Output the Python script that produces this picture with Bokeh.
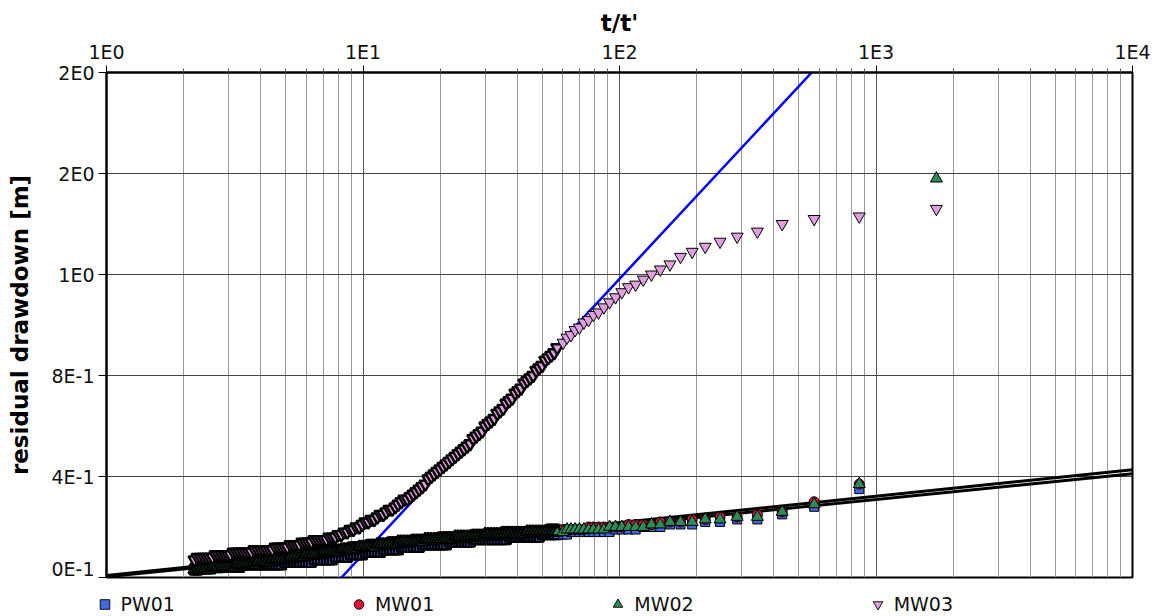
from bokeh.plotting import figure
from bokeh.layouts import column
from bokeh.models import FixedTicker, Legend, LegendItem
from bokeh.embed import file_html
from bokeh.resources import INLINE

# ---------------- data ----------------
# t/t' values shared by every well (ascending)
t_ratio = [2.203, 2.263, 2.325, 2.388, 2.453, 2.520, 2.589, 2.660, 2.732, 2.807,
           2.884, 2.963, 3.043, 3.126, 3.212, 3.299, 3.389, 3.482, 3.577, 3.675,
           3.774, 3.877, 3.983, 4.092, 4.203, 4.318, 4.436, 4.557, 4.681, 4.809,
           4.940, 5.074, 5.213, 5.355, 5.501, 5.651, 5.805, 5.964, 6.127, 6.294,
           6.465, 6.641, 6.822, 7.008, 7.200, 7.396, 7.598, 7.805, 8.018, 8.237,
           8.460, 8.691, 8.928, 9.172, 9.422, 9.680, 9.944, 10.215, 10.494, 10.780,
           11.07, 11.38, 11.69, 12.00, 12.33, 12.67, 13.01, 13.37, 13.73, 14.11,
           14.49, 14.89, 15.29, 15.71, 16.14, 16.58, 17.03, 17.50, 17.97, 18.46,
           18.97, 19.48, 20.01, 20.56, 21.12, 21.70, 22.29, 22.90, 23.52, 24.17,
           24.82, 25.50, 26.19, 26.91, 27.64, 28.40, 29.17, 29.97, 30.79, 31.63,
           32.49, 33.37, 34.28, 35.22, 36.18, 37.17, 38.18, 39.22, 40.29, 41.39,
           42.52, 43.67, 44.87, 46.09, 47.35, 48.64, 49.97, 51.33, 52.73, 54.17,
           55.64, 57.16,
           60.28, 62.39, 64.67, 67.12, 69.76, 72.63, 75.74, 79.14, 82.86, 86.95,
           91.47, 96.5, 102.12, 108.44, 115.6, 123.79, 133.23, 144.25, 157.27, 172.9,
           192.0, 215.875, 246.57, 287.5, 344.8, 430.75, 574.0, 860.5, 1720.0]

# residual drawdown [m]
mw03 = [0.07, 0.08, 0.08, 0.08, 0.08, 0.08, 0.08, 0.09, 0.09, 0.09,
        0.09, 0.09, 0.09, 0.10, 0.10, 0.10, 0.10, 0.10, 0.10, 0.10,
        0.11, 0.11, 0.11, 0.11, 0.11, 0.11, 0.11, 0.12, 0.12, 0.12,
        0.12, 0.12, 0.13, 0.13, 0.13, 0.13, 0.14, 0.14, 0.14, 0.14,
        0.15, 0.15, 0.15, 0.15, 0.15, 0.16, 0.16, 0.16, 0.17, 0.17,
        0.18, 0.18, 0.19, 0.19, 0.20, 0.20, 0.21, 0.22, 0.22, 0.23,
        0.23, 0.24, 0.25, 0.25, 0.26, 0.27, 0.27, 0.28, 0.29, 0.30,
        0.31, 0.31, 0.32, 0.33, 0.34, 0.35, 0.36, 0.37, 0.39, 0.40,
        0.41, 0.42, 0.43, 0.44, 0.45, 0.46, 0.47, 0.48, 0.49, 0.50,
        0.51, 0.52, 0.53, 0.55, 0.56, 0.57, 0.58, 0.60, 0.61, 0.62,
        0.63, 0.65, 0.66, 0.67, 0.69, 0.70, 0.71, 0.73, 0.74, 0.75,
        0.77, 0.78, 0.79, 0.80, 0.82, 0.83, 0.84, 0.86, 0.87, 0.88,
        0.89, 0.91,
        0.93, 0.95, 0.96, 0.98, 0.99, 1.01, 1.02, 1.04, 1.05, 1.07,
        1.09, 1.11, 1.13, 1.15, 1.16, 1.18, 1.20, 1.22, 1.24, 1.27,
        1.29, 1.31, 1.33, 1.35, 1.37, 1.40, 1.42, 1.43, 1.46]

mw02 = [0.03, 0.03, 0.03, 0.03, 0.03, 0.03, 0.04, 0.04, 0.04, 0.04,
        0.04, 0.04, 0.04, 0.04, 0.05, 0.05, 0.05, 0.05, 0.05, 0.05,
        0.05, 0.06, 0.06, 0.06, 0.06, 0.06, 0.07, 0.07, 0.07, 0.07,
        0.07, 0.07, 0.08, 0.08, 0.08, 0.08, 0.08, 0.09, 0.09, 0.09,
        0.09, 0.09, 0.09, 0.10, 0.10, 0.10, 0.10, 0.10, 0.10, 0.11,
        0.11, 0.11, 0.11, 0.11, 0.11, 0.12, 0.12, 0.12, 0.12, 0.12,
        0.12, 0.13, 0.13, 0.13, 0.13, 0.13, 0.13, 0.13, 0.14, 0.14,
        0.14, 0.14, 0.14, 0.14, 0.14, 0.14, 0.14, 0.15, 0.15, 0.15,
        0.15, 0.15, 0.15, 0.15, 0.15, 0.15, 0.15, 0.16, 0.16, 0.16,
        0.16, 0.16, 0.16, 0.16, 0.16, 0.16, 0.16, 0.17, 0.17, 0.17,
        0.17, 0.17, 0.17, 0.17, 0.17, 0.17, 0.17, 0.17, 0.17, 0.17,
        0.17, 0.18, 0.18, 0.18, 0.18, 0.18, 0.18, 0.18, 0.18, 0.18,
        0.18, 0.18,
        0.18, 0.19, 0.19, 0.19, 0.19, 0.19, 0.19, 0.19, 0.19, 0.19,
        0.20, 0.20, 0.20, 0.20, 0.20, 0.20, 0.21, 0.21, 0.22, 0.22,
        0.22, 0.23, 0.23, 0.24, 0.24, 0.26, 0.29, 0.37, 1.58]

# PW01 and MW01 have no reading at the last (largest) t/t'
t_ratio_pw_mw = t_ratio[:-1]

mw01 = [0.04, 0.04, 0.04, 0.04, 0.04, 0.04, 0.04, 0.04, 0.04, 0.04,
        0.05, 0.05, 0.05, 0.05, 0.05, 0.05, 0.05, 0.05, 0.06, 0.06,
        0.06, 0.06, 0.06, 0.06, 0.07, 0.07, 0.07, 0.07, 0.07, 0.08,
        0.08, 0.08, 0.08, 0.08, 0.08, 0.09, 0.09, 0.09, 0.09, 0.09,
        0.10, 0.10, 0.10, 0.10, 0.10, 0.10, 0.11, 0.11, 0.11, 0.11,
        0.11, 0.11, 0.12, 0.12, 0.12, 0.12, 0.12, 0.12, 0.13, 0.13,
        0.13, 0.13, 0.13, 0.13, 0.13, 0.14, 0.14, 0.14, 0.14, 0.14,
        0.14, 0.14, 0.14, 0.15, 0.15, 0.15, 0.15, 0.15, 0.15, 0.15,
        0.15, 0.15, 0.16, 0.16, 0.16, 0.16, 0.16, 0.16, 0.16, 0.16,
        0.16, 0.16, 0.16, 0.17, 0.17, 0.17, 0.17, 0.17, 0.17, 0.17,
        0.17, 0.17, 0.17, 0.18, 0.18, 0.18, 0.18, 0.18, 0.18, 0.18,
        0.18, 0.18, 0.18, 0.18, 0.18, 0.18, 0.18, 0.18, 0.19, 0.19,
        0.19, 0.19,
        0.19, 0.19, 0.19, 0.19, 0.19, 0.19, 0.20, 0.20, 0.20, 0.20,
        0.20, 0.20, 0.20, 0.21, 0.21, 0.21, 0.21, 0.22, 0.22, 0.22,
        0.23, 0.23, 0.24, 0.24, 0.25, 0.26, 0.30, 0.37]

pw01 = [0.03, 0.03, 0.04, 0.04, 0.04, 0.04, 0.04, 0.04, 0.04, 0.04,
        0.04, 0.04, 0.04, 0.04, 0.04, 0.04, 0.05, 0.05, 0.05, 0.05,
        0.05, 0.05, 0.05, 0.05, 0.05, 0.05, 0.05, 0.05, 0.05, 0.05,
        0.06, 0.06, 0.06, 0.06, 0.06, 0.06, 0.06, 0.06, 0.06, 0.06,
        0.07, 0.07, 0.07, 0.07, 0.07, 0.07, 0.07, 0.08, 0.08, 0.08,
        0.08, 0.08, 0.09, 0.09, 0.09, 0.09, 0.09, 0.10, 0.10, 0.10,
        0.10, 0.10, 0.10, 0.11, 0.11, 0.11, 0.11, 0.11, 0.11, 0.12,
        0.12, 0.12, 0.12, 0.12, 0.12, 0.12, 0.13, 0.13, 0.13, 0.13,
        0.13, 0.13, 0.13, 0.13, 0.13, 0.14, 0.14, 0.14, 0.14, 0.14,
        0.14, 0.14, 0.14, 0.15, 0.15, 0.15, 0.15, 0.15, 0.15, 0.15,
        0.15, 0.15, 0.15, 0.15, 0.15, 0.16, 0.16, 0.16, 0.16, 0.16,
        0.16, 0.16, 0.16, 0.16, 0.16, 0.16, 0.17, 0.17, 0.17, 0.17,
        0.17, 0.17,
        0.17, 0.17, 0.18, 0.18, 0.18, 0.18, 0.18, 0.18, 0.18, 0.18,
        0.18, 0.19, 0.19, 0.19, 0.19, 0.20, 0.20, 0.20, 0.21, 0.21,
        0.21, 0.22, 0.22, 0.23, 0.23, 0.25, 0.28, 0.35]

# fitted straight lines (semi-log)
fit_x = [1, 10000]
fit_low_a = [0.008, 0.4265]
fit_low_b = [0.003, 0.411]
fit_mw03_x = [8.24, 561.6]
fit_mw03_y = [0.0, 2.0]

# axis ticks and labels
x_ticks = [1, 10, 100, 1000, 10000]
x_tick_labels = ["1E0", "1E1", "1E2", "1E3", "1E4"]
x_minor = [m * d for d in [1, 10, 100, 1000] for m in range(2, 10)]
y_ticks = [0.0, 0.4, 0.8, 1.2, 1.6, 2.0]
y_tick_labels = ["0E-1", "4E-1", "8E-1", "1E0", "2E0", "2E0"]

series_names = ["PW01", "MW01", "MW02", "MW03"]

FONT = "DejaVu Sans"
C_PW, C_M1, C_M2, C_M3 = "#4169e1", "#dc143c", "#2e8b57", "#dda0dd"
N_DENSE = 122          # the closely spaced readings, whose outlines merge into a dark band
W_DENSE, W_SPARSE = 2.4, 1.0

# ---------------- main figure ----------------
p = figure(width=1152, height=579, x_axis_type="log", x_range=(1, 10000), y_range=(0, 2.0),
           x_axis_location="above", output_backend="svg", toolbar_location=None,
           min_border_left=106, min_border_right=20, min_border_top=72, min_border_bottom=2,
           background_fill_color="white", border_fill_color="white")

xt = FixedTicker(ticks=x_ticks, minor_ticks=x_minor)
yt = FixedTicker(ticks=y_ticks, minor_ticks=[])
p.xaxis.ticker = xt
p.yaxis.ticker = yt
p.xgrid.ticker = xt
p.ygrid.ticker = yt
p.xaxis.major_label_overrides = dict(zip(x_ticks, x_tick_labels))
p.yaxis.major_label_overrides = dict(zip(y_ticks, y_tick_labels))

for ax in (p.xaxis, p.yaxis):
    ax.axis_line_color = "black"
    ax.axis_line_width = 2
    ax.major_tick_line_color = "black"
    ax.major_tick_line_width = 1
    ax.major_tick_in = 0
    ax.minor_tick_in = 0
    ax.major_label_text_font = FONT
    ax.major_label_text_font_size = "19px"
    ax.major_label_text_color = "#111111"
    ax.axis_label_text_font = FONT
    ax.axis_label_text_font_size = "23px"
    ax.axis_label_text_font_style = "bold"
    ax.axis_label_text_color = "black"

p.xaxis.major_tick_out = 7
p.xaxis.minor_tick_out = 4
p.xaxis.minor_tick_line_color = "#555555"
p.xaxis.major_label_standoff = 3
p.xaxis.axis_label = "t/t'"
p.xaxis.axis_label_standoff = 2

p.yaxis.major_tick_out = 8
p.yaxis.minor_tick_out = 0
p.yaxis.minor_tick_line_color = None
p.yaxis.major_label_standoff = 4
p.yaxis.axis_label = "residual drawdown [m]"
p.yaxis.axis_label_standoff = 15

p.xgrid.grid_line_color = "#555555"
p.xgrid.grid_line_width = 1
p.xgrid.minor_grid_line_color = "#9a9a9a"
p.xgrid.minor_grid_line_width = 1
p.ygrid.grid_line_color = "#444444"
p.ygrid.grid_line_width = 1

p.outline_line_color = "black"
p.outline_line_width = 2

# fitted lines underneath the markers
p.line(fit_x, fit_low_a, line_color="black", line_width=3)
p.line(fit_x, fit_low_b, line_color="black", line_width=3)
p.line(fit_mw03_x, fit_mw03_y, line_color="#0000ff", line_width=2.5)

series = [(t_ratio_pw_mw, pw01, "square", 9, C_PW),
          (t_ratio_pw_mw, mw01, "circle", 10, C_M1),
          (t_ratio, mw02, "triangle", 12, C_M2),
          (t_ratio, mw03, "inverted_triangle", 12, C_M3)]
for xs, ys, mk, sz, col in series:
    p.scatter(xs[:N_DENSE], ys[:N_DENSE], marker=mk, size=sz,
              fill_color=col, line_color="black", line_width=W_DENSE)
    p.scatter(xs[N_DENSE:], ys[N_DENSE:], marker=mk, size=sz,
              fill_color=col, line_color="black", line_width=W_SPARSE)

# ---------------- legend strip under the chart ----------------
leg = figure(width=1152, height=37, output_backend="svg", toolbar_location=None,
             x_range=(0, 1), y_range=(0, 1), x_axis_type=None, y_axis_type=None,
             min_border=0, outline_line_color=None,
             background_fill_color="white", border_fill_color="white")
leg.xgrid.visible = False
leg.ygrid.visible = False
legend_x = -14.5
if "frame_align" in leg.properties():
    leg.frame_align = False
    p.frame_align = False
    legend_x = 91.5

# one off-range sample each, so the legend has a glyph to draw
leg_renderers = [leg.scatter([-5], [-5], marker=mk, fill_color=col, line_color="black", line_width=0.9)
                 for _, _, mk, _, col in series]

legend = Legend(items=[LegendItem(label=n, renderers=[r]) for n, r in
                       zip(series_names, leg_renderers)],
                orientation="horizontal", location=(legend_x, 0),
                glyph_width=25, glyph_height=24, label_standoff=4,
                spacing=171, padding=0, margin=0,
                border_line_color=None, background_fill_alpha=0,
                label_text_font=FONT, label_text_font_size="19px",
                label_text_color="#111111")
leg.add_layout(legend, "center")

page = column(p, leg, spacing=0)
open("out.html", "w").write(file_html(page, INLINE))
